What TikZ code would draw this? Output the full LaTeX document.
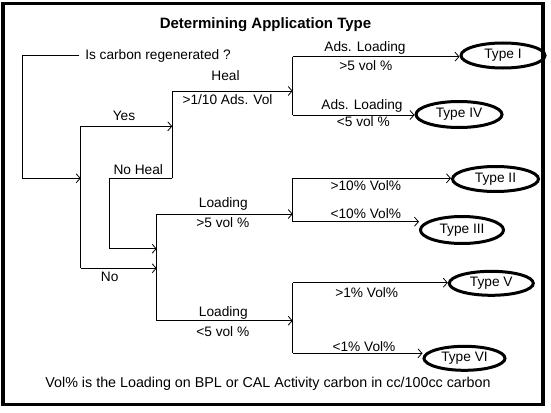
\documentclass[tikz,border=0pt]{standalone}
\usepackage{fontspec}
\setmainfont{Liberation Sans}
\usetikzlibrary{shapes.geometric,arrows.meta}
\begin{document}
\begin{tikzpicture}[x=1pt,y=-1pt,
  txt/.style={inner sep=0pt,font=\fontsize{13.7}{15}\selectfont},
  typ/.style={ellipse,draw,line width=3pt,inner sep=0pt,font=\fontsize{13.7}{15}\selectfont},
  conn/.style={line width=1pt},
  arr/.style={line width=1pt,-{Straight Barb[length=4pt,width=9pt,line width=0.8pt]}}]
\useasboundingbox (0,0) rectangle (551,412);
\draw[line width=3.5pt] (3,3.5) rectangle (543,404.5);
% texts
\node[txt,font=\fontsize{15}{17}\selectfont\bfseries] (title) at (265.5,25) {Determining Application Type};
\node[txt,inner xsep=6pt] (q) at (158,55.5) {Is carbon regenerated ?};
\node[txt] (yes) at (124,116) {Yes};
\node[txt] (noheal) at (138.3,169.3) {No Heal};
\node[txt] (no) at (109.7,277.3) {No};
\node[txt] (heal) at (225.5,76) {Heal};
\node[txt] (healb) at (227.5,99.3) {>1/10 Ads. Vol};
\node[txt] (ld1) at (223.3,204) {Loading};
\node[txt] (ld1b) at (222.8,222.3) {>5 vol \%};
\node[txt] (ld2) at (223.3,312.7) {Loading};
\node[txt] (ld2b) at (222.8,331.7) {<5 vol \%};
\node[txt] (ads1) at (365,48.3) {Ads. Loading};
\node[txt] (ads1b) at (365.8,66) {>5 vol \%};
\node[txt] (ads2) at (362,106) {Ads. Loading};
\node[txt] (ads2b) at (363.3,121.7) {<5 vol \%};
\node[txt] (v10a) at (365.8,186) {>10\% Vol\%};
\node[txt] (v10b) at (365.8,213.3) {<10\% Vol\%};
\node[txt] (v1a) at (366.7,292.7) {>1\% Vol\%};
\node[txt] (v1b) at (364,346.7) {<1\% Vol\%};
\node[txt,font=\fontsize{14.3}{16}\selectfont] (foot) at (268,383.3) {Vol\% is the Loading on BPL or CAL Activity carbon in cc/100cc carbon};
% ellipses
\node[typ,minimum width=84pt,minimum height=25pt] (t1) at (503,55.5) {Type I};
\node[typ,minimum width=86pt,minimum height=26pt] (t4) at (459,114.5) {Type IV};
\node[typ,minimum width=86pt,minimum height=25pt] (t2) at (495.5,179) {Type II};
\node[typ,minimum width=83pt,minimum height=27pt] (t3) at (462,230) {Type III};
\node[typ,minimum width=84pt,minimum height=24pt] (t5) at (491.3,283.3) {Type V};
\node[typ,minimum width=81pt,minimum height=24pt] (t6) at (464.5,358.3) {Type VI};
% junction coordinates
\coordinate (a0) at (22.7,56.7);
\coordinate (a1) at (80.7,178.3);
\coordinate (b0) at (80.7,126.3);
\coordinate (b1) at (80.7,268.3);
\coordinate (c0) at (172.3,126.3);
\coordinate (c1) at (172.3,91);
\coordinate (c2) at (172.3,178.3);
\coordinate (d0) at (109,178.3);
\coordinate (d1) at (156.7,248.7);
\coordinate (d2) at (156.7,268.3);
\coordinate (e0) at (156.7,214);
\coordinate (e1) at (156.7,320.7);
\coordinate (f1) at (292.7,91);
\coordinate (f1a) at (292.7,56.7);
\coordinate (f1b) at (292.7,115);
\coordinate (f2) at (292.7,214);
\coordinate (f2a) at (292.7,178.3);
\coordinate (f2b) at (292.7,221.7);
\coordinate (f3) at (292.7,320.7);
\coordinate (f3a) at (292.7,282.7);
\coordinate (f3b) at (292.7,353.3);
% connectors
\draw[conn] (q.west) -- (a0 |- q.west);
\draw[arr] (a0 |- q.west) |- (a1);
\draw[conn] (b0) -- (b1);
\draw[arr] (b0) -- (c0);
\draw[conn] (c1) -- (c2);
\draw[arr] (c1) -- (f1);
\draw[arr] (c2) -- (d0) |- (d1);
\draw[arr] (b1) -- (d2);
\draw[conn] (e0) -- (e1);
\draw[arr] (e0) -- (f2);
\draw[arr] (e1) -- (f3);
\draw[conn] (f1a) -- (f1b);
\draw[conn] (f2a) -- (f2b);
\draw[conn] (f3a) -- (f3b);
\draw[arr] (f1a) -- (f1a -| t1.west);
\draw[arr] (f1b) -- (f1b -| t4.west);
\draw[arr] (f2a) -- (f2a -| t2.west);
\draw[arr] (f2b) -- (f2b -| t3.west);
\draw[arr] (f3a) -- (f3a -| t5.west);
\draw[arr] (f3b) -- (f3b -| t6.west);
\end{tikzpicture}
\end{document}
